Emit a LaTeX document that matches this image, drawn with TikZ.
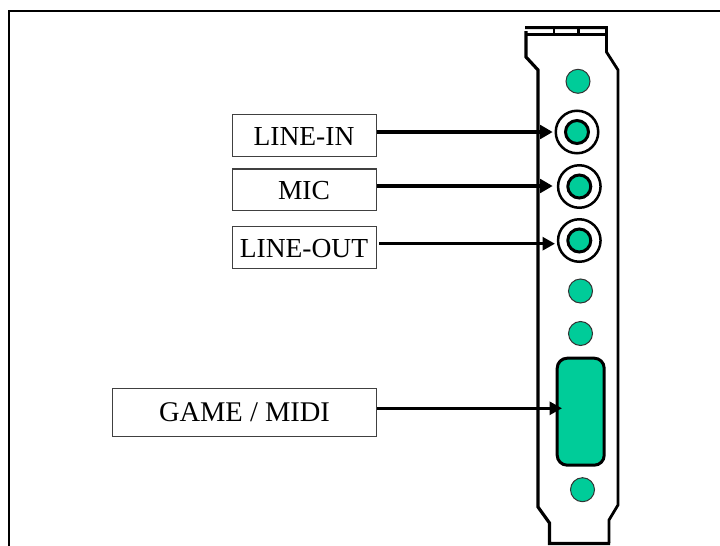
\documentclass[tikz,border=0pt]{standalone}
\usepackage{fontspec}
\setmainfont{Liberation Serif}
\usetikzlibrary{arrows.meta}
\definecolor{jade}{RGB}{0,204,153}
\tikzset{
  x=1pt,y=-1pt,
  lblbox/.style={draw=black!75,line width=1.2pt,fill=white,inner sep=0pt,anchor=north west},
  lbl/.style={font=\fontsize{27.5}{30}\selectfont,anchor=base,inner sep=0pt},
  jack/.style={circle,draw=black,line width=3pt,fill=jade,minimum size=23pt,inner sep=0pt,outer sep=0pt},
  ring/.style={circle,draw=black,line width=2.5pt,minimum size=42.5pt,inner sep=0pt,outer sep=0pt},
  hole/.style={circle,draw=black!80,line width=1pt,fill=jade,minimum size=24pt,inner sep=0pt,outer sep=0pt},
  plate/.style={line width=2.8pt,line join=miter},
  thickarrow/.style={line width=4.5pt,-{Triangle[length=12.5pt,width=13.5pt]}},
  thinarrow/.style={line width=3pt,-{Triangle[length=12.5pt,width=13pt]}},
}
\begin{document}
\begin{tikzpicture}
\useasboundingbox (0,0) rectangle (720,546);
\fill[white] (0,0) rectangle (720,546);
\draw[line width=2.6pt] (9,546) -- (9,11) -- (720,11);
% bracket
\draw[plate] (525,27.6) -- (606.5,27.6) -- (606.5,52) -- (618,70) -- (618,505) -- (609,520) -- (609,543);
\draw[plate] (525,34.8) -- (606.5,34.8);
\draw[plate] (554,27) -- (554,35) -- (578.5,35) -- (578.5,27);
\draw[line width=3.2pt] (526,31) -- (526,57) -- (538,70) -- (538,507) -- (549.5,523) -- (549.5,543.5) -- (610,543.5);
\node[hole] (h1) at (578,81.3) {};
\node[ring] (r1) at (577,132) {};
\node[jack] (j1) at (577,132) {};
\node[ring] (r2) at (579.3,186.5) {};
\node[jack] (j2) at (579.3,186.5) {};
\node[ring] (r3) at (579.3,240.5) {};
\node[jack] (j3) at (579.3,240.5) {};
\node[hole] (h2) at (580.5,291) {};
\node[hole] (h3) at (580.5,333.5) {};
\node[draw=black,line width=3pt,fill=jade,rounded corners=10pt,minimum width=47pt,minimum height=107pt,inner sep=0pt,outer sep=0pt] (game) at (580.7,411.7) {};
\node[hole] (h4) at (582.5,489.7) {};
\node[lblbox,minimum width=144pt,minimum height=41.7pt] (a) at (232,114) {};
\node[lblbox,minimum width=144pt,minimum height=41.7pt] (b) at (232,168.3) {};
\node[lblbox,minimum width=144pt,minimum height=42pt] (c) at (232,225.7) {};
\node[lblbox,minimum width=264pt,minimum height=47.7pt] (d) at (112,388) {};
\node[lbl] (ta) at (304,145) {LINE-IN};
\node[lbl] (tb) at (304,199) {MIC};
\node[lbl] (tc) at (304,257.3) {LINE-OUT};
\node[lbl,font=\fontsize{28.5}{30}\selectfont] (td) at (244.5,421.7) {GAME / MIDI};
\coordinate (ea) at (552.7,132);
\coordinate (eb) at (552.7,186);
\coordinate (ec) at (555,243.7);
\coordinate (ed) at (562,408.3);
\coordinate (sc) at (379,243.7);
\draw[thickarrow] (a.east |- ea) -- (ea);
\draw[thickarrow] (b.east |- eb) -- (eb);
\draw[thinarrow] (sc) -- (ec);
\draw[thinarrow] (d.east |- ed) -- (ed);
\end{tikzpicture}
\end{document}
